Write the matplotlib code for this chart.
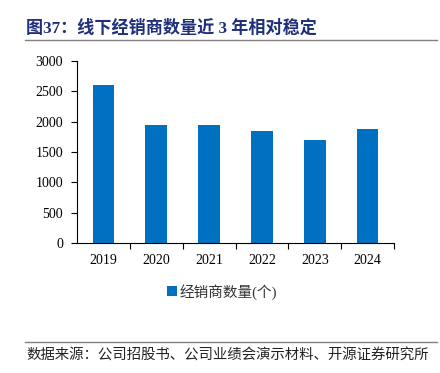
import matplotlib.pyplot as plt
from matplotlib.lines import Line2D

plt.rcParams['font.family'] = ['Liberation Serif', 'Noto Sans CJK SC']

years = ['2019', '2020', '2021', '2022', '2023', '2024']
dealers = [2600, 1950, 1950, 1840, 1700, 1880]
yticks = [0, 500, 1000, 1500, 2000, 2500, 3000]

fig = plt.figure(figsize=(4.4, 3.73), dpi=100)
ax = fig.add_axes([0.175, 0.3485, 0.7205, 0.488])

x = range(len(years))
ax.bar(x, dealers, width=0.41, color='#0070C0', label='经销商数量(个)')
ax.set_xlim(-0.5, len(years) - 0.5)
ax.set_ylim(0, 3000)
ax.set_yticks(yticks)
ax.set_yticklabels([str(t) for t in yticks], fontsize=10)
ax.set_xticks(list(x))
ax.set_xticklabels(years, fontsize=10)
ax.tick_params(axis='x', length=0, pad=8)
ax.tick_params(axis='y', length=4, width=0.8, pad=6)
# category boundary ticks on x axis
ax.set_xticks([i + 0.5 for i in range(len(years))], minor=True)
ax.tick_params(axis='x', which='minor', length=4, width=0.8)
for s in ['top', 'right']:
    ax.spines[s].set_visible(False)
for s in ['left', 'bottom']:
    ax.spines[s].set_linewidth(0.8)

leg = fig.legend(loc='center', bbox_to_anchor=(0.505, 0.218), frameon=False,
                 fontsize=10.5, handlelength=0.7, handleheight=0.7, handletextpad=0.2)
for t in leg.get_texts():
    t.set_color('#333333')

fig.text(0.059, 0.924, '图37：线下经销商数量近 3 年相对稳定', fontsize=12.3,
         fontweight='bold', color='#1F2F7A', va='center', ha='left')
fig.add_artist(Line2D([0.057, 0.993], [0.893, 0.893], color='#808080', linewidth=1.0))
fig.add_artist(Line2D([0.057, 0.993], [0.083, 0.083], color='#808080', linewidth=1.0))
fig.text(0.059, 0.048, '数据来源：公司招股书、公司业绩会演示材料、开源证券研究所', fontsize=10.4,
         color='#222222', va='center', ha='left')

fig.savefig('out.png', dpi=100)
